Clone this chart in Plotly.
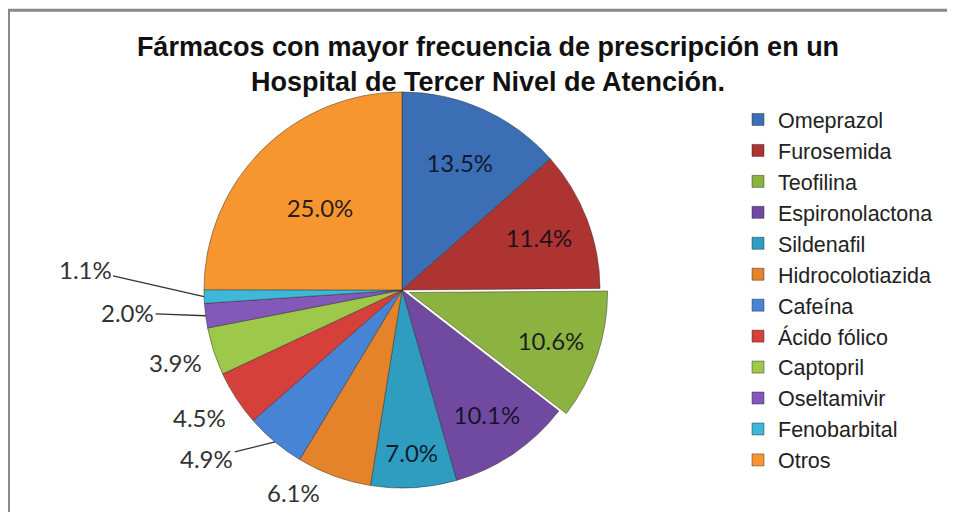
import math
import plotly.graph_objects as go

# --- data ---
farmacos = [
    "Omeprazol", "Furosemida", "Teofilina", "Espironolactona", "Sildenafil",
    "Hidrocolotiazida", "Cafeína", "Ácido fólico", "Captopril", "Oseltamivir",
    "Fenobarbital", "Otros",
]
porcentajes = [13.5, 11.4, 10.6, 10.1, 7.0, 6.1, 4.9, 4.5, 3.9, 2.0, 1.1, 25.0]

colores = [
    "#3c6eb6", "#ad3431", "#8cb23f", "#6f4aa0", "#2f9dc0", "#e5832a",
    "#4784d6", "#d6403b", "#9dc84a", "#8259b8", "#3fb8d8", "#f7962e",
]

# the page puts an 8px body margin round the figure, so the figure is a bit smaller
OFF = 8
W, H = 955 - OFF, 512 - OFF


def xp(x):
    # picture pixel -> paper x
    return (x - OFF) / W


def yp(y):
    # picture pixel -> paper y
    return 1 - (y - OFF) / H


# slices whose labels sit outside the pie (label offset in px from the rim, leader line?)
fuera = {
    "Fenobarbital": (-119, -27, True),
    "Oseltamivir": (-78, -3, True),
    "Captopril": (-38, 11, False),
    "Ácido fólico": (-37, 19, False),
    "Cafeína": (-68, 17, True),
    "Hidrocolotiazida": (-40, 17, False),
}

pull = [0.04 if f == "Teofilina" else 0 for f in farmacos]
plantilla = ["" if f in fuera else "%{value:.1f}%" for f in farmacos]

dom_x = [xp(196), xp(608)]
dom_y = [yp(496), yp(84)]

fig = go.Figure(go.Pie(
    labels=farmacos,
    values=porcentajes,
    sort=False,
    direction="clockwise",
    rotation=0,
    pull=pull,
    marker=dict(colors=colores, line=dict(color="rgba(40,40,40,0.45)", width=1)),
    texttemplate=plantilla,
    textposition="inside",
    insidetextorientation="horizontal",
    textfont=dict(family="Lato, sans-serif", size=24, color="rgba(10,10,25,0.88)"),
    domain=dict(x=dom_x, y=dom_y),
    hoverinfo="label+value",
))

# pie geometry, to hang the outside labels on the slice rims
cx = (dom_x[0] + dom_x[1]) / 2 * W
cy = (1 - (dom_y[0] + dom_y[1]) / 2) * H
r = min((dom_x[1] - dom_x[0]) * W, (dom_y[1] - dom_y[0]) * H) / 2 / (1 + max(pull))
total = sum(porcentajes)

acum = 0
for f, v in zip(farmacos, porcentajes):
    mid = (acum + v / 2) / total * 2 * math.pi
    acum += v
    if f not in fuera:
        continue
    ax, ay, linea = fuera[f]
    px = cx + r * math.sin(mid)
    py = cy - r * math.cos(mid)
    fig.add_annotation(
        x=px / W, y=1 - py / H, xref="paper", yref="paper",
        ax=ax, ay=ay, text=f"{v:.1f}%",
        showarrow=True, arrowhead=0, standoff=0, startstandoff=0,
        arrowwidth=1.3, arrowcolor="#333333" if linea else "rgba(0,0,0,0)",
        font=dict(family="Lato, sans-serif", size=24, color="#333333"),
    )

# chart frame (only top and left edges are visible in the picture)
fig.add_shape(type="rect", xref="paper", yref="paper",
              x0=0.5 / W, x1=1.05, y0=-0.05, y1=1 - 2.3 / H,
              line=dict(color="#8a8a8a", width=3))

fig.update_layout(
    width=W, height=H,
    margin=dict(l=0, r=0, t=0, b=0),
    paper_bgcolor="white",
    plot_bgcolor="white",
    title=dict(
        text="Fármacos con mayor frecuencia de prescripción en un<br>Hospital de Tercer Nivel de Atención.",
        font=dict(family="Liberation Sans, Arial, sans-serif", size=27, color="#111111", weight="bold"),
        x=xp(488), xanchor="center",
        y=1 - 48 / H, yanchor="top", yref="container",
    ),
    legend=dict(
        x=730 / W, xanchor="left",
        y=1 - 91 / H, yanchor="top",
        font=dict(family="Liberation Sans, Arial, sans-serif", size=21.5, color="#222222"),
        bgcolor="rgba(0,0,0,0)",
    ),
)

fig.write_html("out.html")
